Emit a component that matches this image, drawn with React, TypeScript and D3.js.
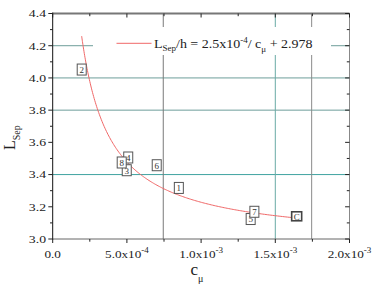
import React from "react";
import * as d3 from "d3";

const labels = ["2", "4", "3", "8", "6", "1", "5", "7", "C"];
const cmuValues = [1.955e-4, 5.09e-4, 4.99e-4, 4.65e-4, 7.01e-4, 8.5e-4, 1.334e-3, 1.359e-3, 1.644e-3];
const lsepValues = [4.052, 3.506, 3.427, 3.475, 3.458, 3.317, 3.124, 3.169, 3.141];
const yTicks = [3.0, 3.2, 3.4, 3.6, 3.8, 4.0, 4.2, 4.4];
const xTicks = [0, 5e-4, 1e-3, 1.5e-3, 2e-3];
const xTickMant = ["0.0", "5.0x10", "1.0x10", "1.5x10", "2.0x10"];
const xTickExp = ["", "-4", "-3", "-3", "-3"];
const hLines = [4.2, 4.0, 3.8, 3.4];
const vLines = [7.45e-4, 1.5e-3, 1.745e-3];
const fitA = 2.5e-4;
const fitB = 2.978;
const fitRange = [1.95e-4, 1.64e-3];

const W = 374, H = 290;
const x = d3.scaleLinear().domain([0, 0.002]).range([52.7, 349.5]);
const y = d3.scaleLinear().domain([3.0, 4.4]).range([239, 13.5]);
const serif = "Liberation Serif";

export default function App() {
  const curvePts = d3.range(0, 201).map((i) => {
    const c = fitRange[0] + (fitRange[1] - fitRange[0]) * Math.pow(i / 200, 1.6);
    return [c, fitA / c + fitB] as [number, number];
  });
  const line = d3.line<[number, number]>().x((d) => x(d[0])).y((d) => y(d[1]));
  const yMinor = d3.range(3.0, 4.41, 0.1);
  const xMinor = d3.range(0, 0.00201, 2.5e-4);
  const [x0, x1] = x.range();
  const [y0, y1] = y.range();
  const hColors = ["#6e9e9a", "#6e9e9a", "#6e9e9a", "#3fa3a0"];
  const vColors = ["#7a7a7a", "#6aaaa5", "#8a8a8a"];
  return (
    <svg width={W} height={H} style={{ position: "absolute", left: 0, top: 0, background: "#fff", fontFamily: serif }}>
      {hLines.map((v, i) => (
        <line key={"h" + i} x1={x0} x2={x1} y1={y(v)} y2={y(v)} stroke={hColors[i]} strokeWidth={1} />
      ))}
      {vLines.map((v, i) => (
        <line key={"v" + i} x1={x(v)} x2={x(v)} y1={y1} y2={y0} stroke={vColors[i]} strokeWidth={1} />
      ))}
      {/* legend */}
      <rect x={93} y={27} width={238} height={28} fill="#fff" />
      <line x1={116.5} x2={151.5} y1={43.3} y2={43.3} stroke="#f06868" strokeWidth={1} />
      <text x={154} y={48} fontSize={12.5} fill="#222" transform="translate(154,0) scale(1.12,1) translate(-154,0)">
        L<tspan fontSize={8} dy={3}>Sep</tspan>
        <tspan dy={-3}>/h = 2.5x10</tspan>
        <tspan fontSize={8} dy={-5}>-4</tspan>
        <tspan dy={5}>/ c</tspan>
        <tspan fontSize={8} dy={4}>μ</tspan>
        <tspan dy={-4}> + 2.978</tspan>
      </text>
      {/* axes */}
      <line x1={x0} x2={x1} y1={y1} y2={y1} stroke="#777" strokeWidth={2} />
      <line x1={x1} x2={x1} y1={y1} y2={y0} stroke="#888" strokeWidth={1} />
      <line x1={x0} x2={x1} y1={y0} y2={y0} stroke="#666" strokeWidth={1} />
      <line x1={x0} x2={x0} y1={y1 - 1} y2={y0 + 0.5} stroke="#111" strokeWidth={1} />
      {yMinor.map((v, i) => {
        const major = i % 2 === 0;
        const L = major ? 4.4 : 2.7;
        return (
          <g key={"yt" + i}>
            <line x1={x0 - L} x2={x0} y1={y(v)} y2={y(v)} stroke="#222" />
            <line x1={x1 - L} x2={x1} y1={y(v)} y2={y(v)} stroke="#222" />
          </g>
        );
      })}
      {xMinor.map((v, i) => {
        const major = i % 2 === 0;
        const L = major ? 4 : 2.7;
        return (
          <g key={"xt" + i}>
            <line x1={x(v)} x2={x(v)} y1={y0} y2={y0 + L} stroke="#222" />
            <line x1={x(v)} x2={x(v)} y1={y1} y2={y1 + L} stroke="#222" />
          </g>
        );
      })}
      {yTicks.map((v, i) => (
        <text key={"yl" + i} x={46} y={y(v) + 3.8} fontSize={11} textAnchor="end" fill="#222"
          transform={`translate(46,0) scale(1.25,1) translate(-46,0)`}>
          {v.toFixed(1)}
        </text>
      ))}
      {xTicks.map((v, i) => (
        <text key={"xl" + i} x={x(v)} y={258} fontSize={11} textAnchor="middle" fill="#222"
          transform={`translate(${x(v)},0) scale(1.2,1) translate(${-x(v)},0)`}>
          {xTickMant[i]}
          {xTickExp[i] && <tspan fontSize={7.5} dy={-5}>{xTickExp[i]}</tspan>}
        </text>
      ))}
      {/* axis titles */}
      <text x={197} y={275} fontSize={17} textAnchor="middle" fill="#222">
        c<tspan fontSize={10} dy={7}>μ</tspan>
      </text>
      <text transform="translate(15,150) rotate(-90)" fontSize={16} fill="#222">
        L<tspan fontSize={10} dy={5}>Sep</tspan>
      </text>
      {/* fit curve */}
      <path d={line(curvePts) || ""} fill="none" stroke="#f06868" strokeWidth={1} />
      {/* markers */}
      {labels.map((lab, i) => {
        const cx = x(cmuValues[i]);
        const cy = y(lsepValues[i]);
        const heavy = lab === "C";
        return (
          <g key={"m" + i}>
            <rect x={cx - (heavy ? 5 : 4.5)} y={cy - (heavy ? 4.5 : 5.5)} width={heavy ? 10 : 9} height={heavy ? 9 : 11}
              fill="#fff" stroke={heavy ? "#444" : "#555"} strokeWidth={heavy ? 1.6 : 1} />
            <text x={cx} y={cy + 3.3} fontSize={9} textAnchor="middle" fill="#333">{lab}</text>
          </g>
        );
      })}
    </svg>
  );
}
